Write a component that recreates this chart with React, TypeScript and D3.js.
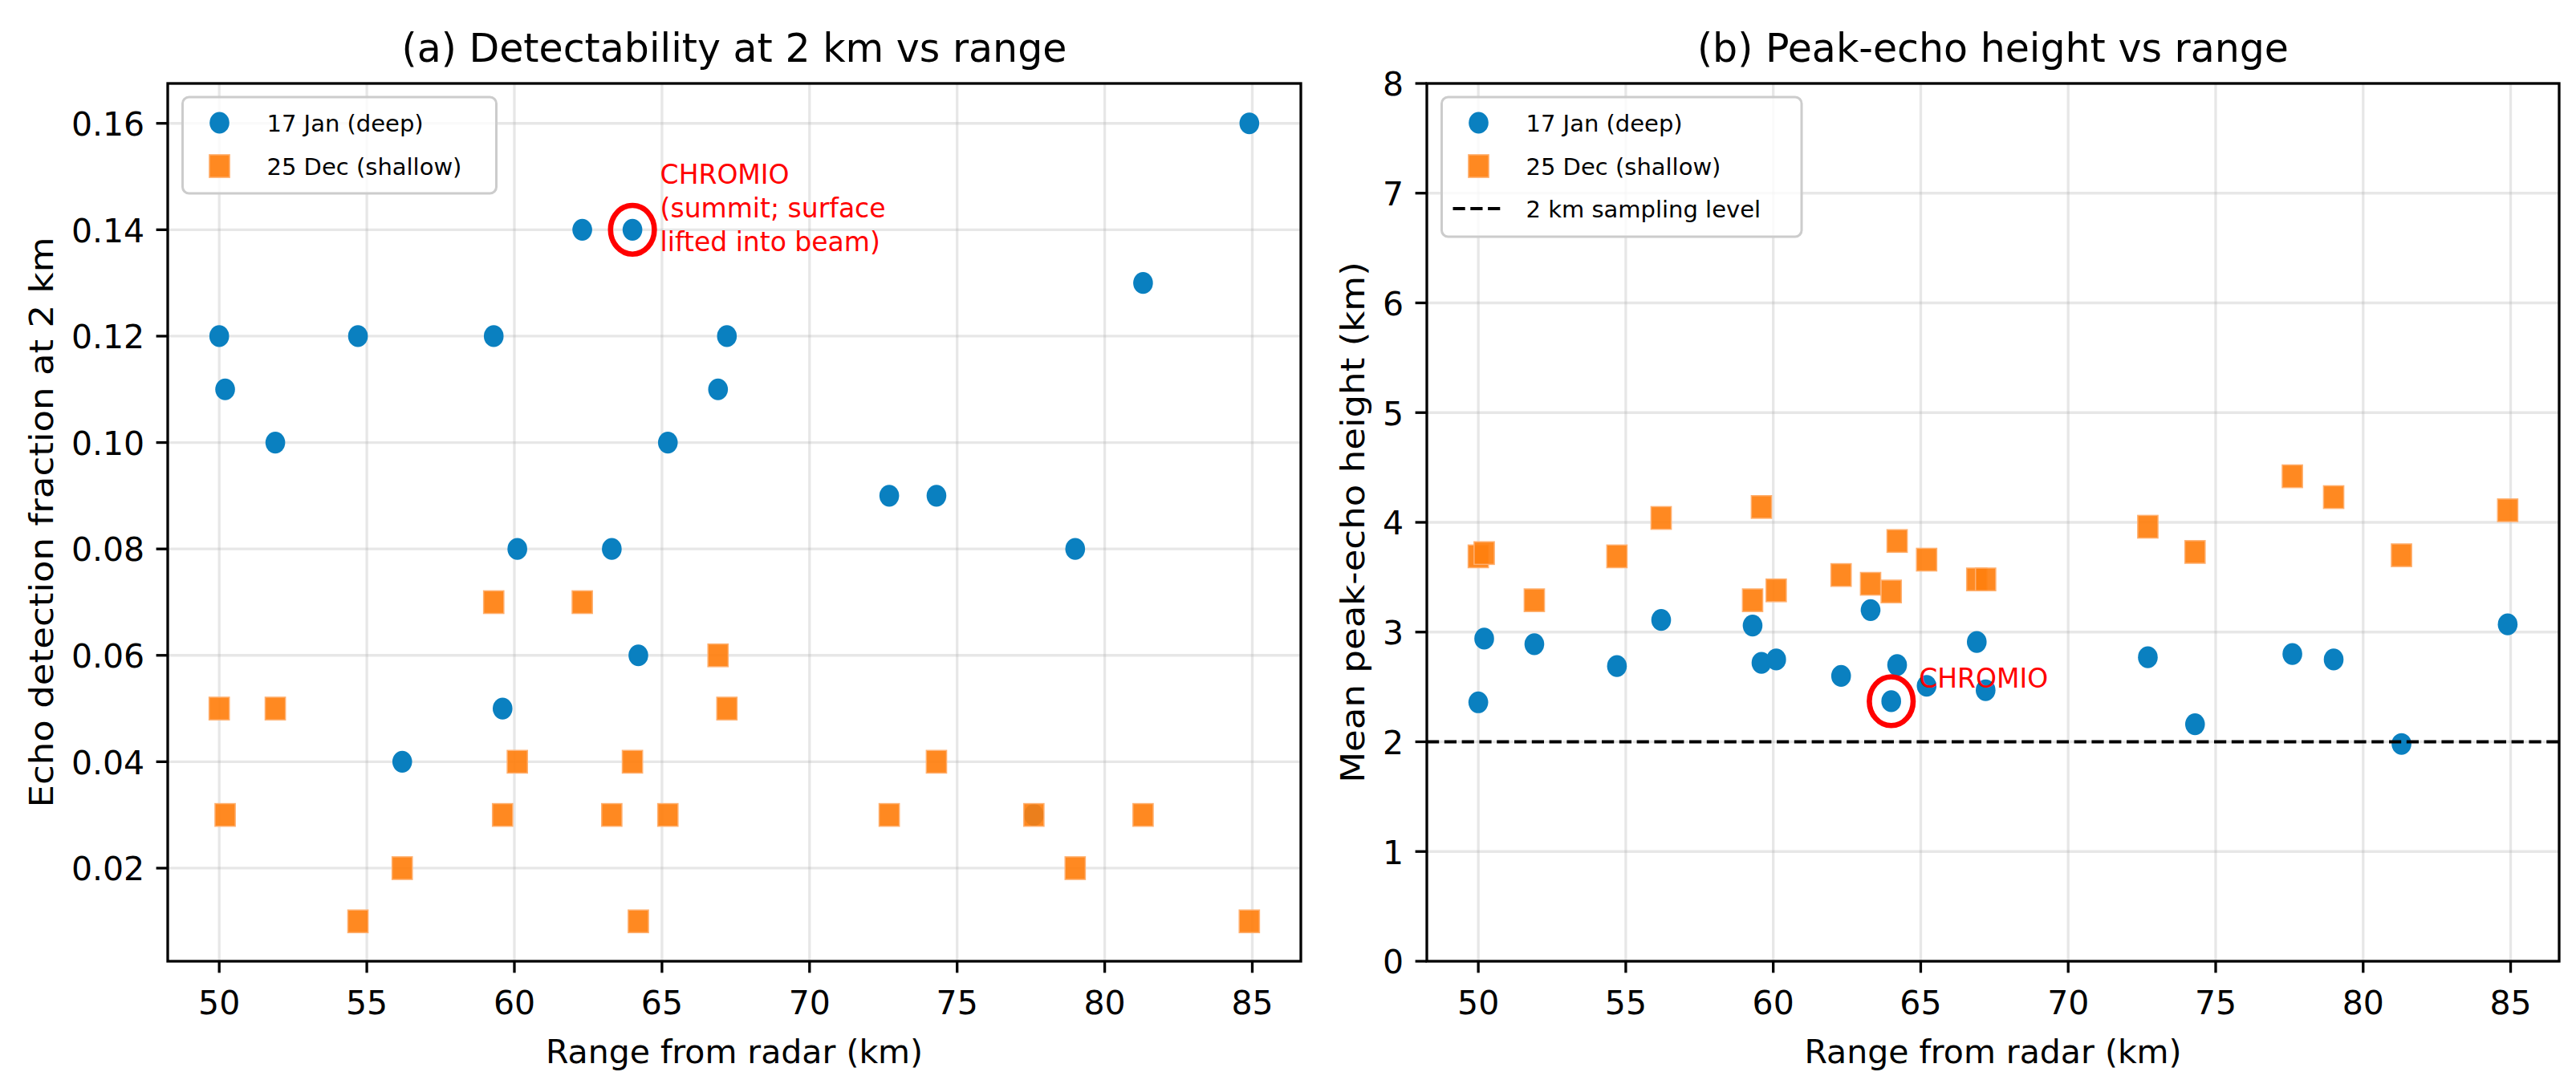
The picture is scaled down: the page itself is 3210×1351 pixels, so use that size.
import React from "react";
import * as d3 from "d3";

// site ranges shared by both case days (km from radar)
const rangeKm = [50.0, 50.2, 51.9, 54.7, 56.2, 59.3, 59.6, 60.1, 62.3, 63.3, 64.0, 64.2, 65.2, 66.9, 67.2, 72.7, 74.3, 77.6, 79.0, 81.3, 84.9];

// (a) echo detection fraction at 2 km
const detectDeep = [0.12, 0.11, 0.10, 0.12, 0.04, 0.12, 0.05, 0.08, 0.14, 0.08, 0.14, 0.06, 0.10, 0.11, 0.12, 0.09, 0.09, 0.03, 0.08, 0.13, 0.16];
const detectShallow = [0.05, 0.03, 0.05, 0.01, 0.02, 0.07, 0.03, 0.04, 0.07, 0.03, 0.04, 0.01, 0.03, 0.06, 0.05, 0.03, 0.04, 0.03, 0.02, 0.03, 0.01];

// (b) mean peak-echo height (km)
const heightDeep = [2.36, 2.94, 2.89, 2.69, 3.11, 3.06, 2.72, 2.75, 2.60, 3.20, 2.37, 2.70, 2.51, 2.91, 2.47, 2.77, 2.16, 2.80, 2.75, 1.98, 3.07];
const heightShallow = [3.69, 3.72, 3.29, 3.69, 4.04, 3.29, 4.14, 3.38, 3.52, 3.44, 3.37, 3.83, 3.66, 3.48, 3.48, 3.96, 3.73, 4.42, 4.23, 3.70, 4.11];

const rangeTicks = [50, 55, 60, 65, 70, 75, 80, 85];
const detectTicks = [0.02, 0.04, 0.06, 0.08, 0.10, 0.12, 0.14, 0.16];
const heightTicks = [0, 1, 2, 3, 4, 5, 6, 7, 8];

const seriesLabels = ["17 Jan (deep)", "25 Dec (shallow)"];
const samplingLabel = "2 km sampling level";
const samplingLevel = 2;
const chromioIndex = 10;
const noteA = ["CHROMIO", "(summit; surface", "lifted into beam)"];
const noteB = ["CHROMIO"];

const W = 3210;
const H = 1351;
const TOP = 104;
const BOTTOM = 1198;
const BLUE = "#0a80c0";
const ORANGE = "#ff7f0e";
const FONT = "DejaVu Sans";
const xDomain = [48.255, 86.645];

type PanelProps = {
  left: number;
  right: number;
  yDomain: [number, number];
  yTicks: number[];
  fmt: (v: number) => string;
  title: string;
  ylabel: string;
  ylabelX: number;
  deep: number[];
  shallow: number[];
  legendW: number;
  withLine: boolean;
  note: string[];
  noteDy: number[];
};

function Dot({ x, y }: { x: number; y: number }) {
  return <ellipse cx={x} cy={y} rx={12.3} ry={13.6} fill={BLUE} />;
}

function Square({ x, y }: { x: number; y: number }) {
  return (
    <rect x={x - 12.6} y={y - 14.1} width={25.2} height={28.2} fill={ORANGE} fillOpacity={0.92}
      stroke="#ffb070" strokeWidth={1.5} />
  );
}

function Panel(p: PanelProps) {
  const x = d3.scaleLinear().domain(xDomain).range([p.left, p.right]);
  const y = d3.scaleLinear().domain(p.yDomain).range([BOTTOM, TOP]);
  const cx = (p.left + p.right) / 2;
  const lx = p.left + 18.5;
  const ly = TOP + 17;
  const rows = p.withLine ? 3 : 2;
  const cxChromio = x(rangeKm[chromioIndex]);
  const cyChromio = y(p.deep[chromioIndex]);

  return (
    <g>
      {/* grid */}
      {rangeTicks.map(t => (
        <line key={"gx" + t} x1={x(t)} x2={x(t)} y1={TOP} y2={BOTTOM} stroke="#b0b0b0" strokeOpacity={0.3} strokeWidth={3.3} />
      ))}
      {p.yTicks.map(t => (
        <line key={"gy" + t} x1={p.left} x2={p.right} y1={y(t)} y2={y(t)} stroke="#b0b0b0" strokeOpacity={0.3} strokeWidth={3.3} />
      ))}

      {/* points */}
      {rangeKm.map((r, i) => <Dot key={"d" + i} x={x(r)} y={y(p.deep[i])} />)}
      {rangeKm.map((r, i) => <Square key={"s" + i} x={x(r)} y={y(p.shallow[i])} />)}

      {p.withLine && (
        <line x1={p.left} x2={p.right} y1={y(samplingLevel)} y2={y(samplingLevel)} stroke="#000" strokeWidth={4.1} strokeDasharray="15.2 6.6" />
      )}

      {/* CHROMIO highlight */}
      <ellipse cx={cxChromio} cy={cyChromio} rx={27.3} ry={30.4} fill="none" stroke="#ff0000" strokeWidth={6.6} />
      {p.note.map((s, i) => (
        <text key={"n" + i} x={cxChromio + 34.5} y={cyChromio + p.noteDy[i]} fill="#ff0000" fontSize={33} fontFamily={FONT}>{s}</text>
      ))}

      {/* frame */}
      <rect x={p.left} y={TOP} width={p.right - p.left} height={BOTTOM - TOP} fill="none" stroke="#000" strokeWidth={3.3} />

      {/* x axis */}
      {rangeTicks.map(t => (
        <g key={"xt" + t}>
          <line x1={x(t)} x2={x(t)} y1={BOTTOM} y2={BOTTOM + 14.4} stroke="#000" strokeWidth={3.3} />
          <text x={x(t)} y={1264} textAnchor="middle" fontSize={41} fontFamily={FONT}>{t}</text>
        </g>
      ))}
      <text x={cx} y={1325} textAnchor="middle" fontSize={41} fontFamily={FONT}>Range from radar (km)</text>

      {/* y axis */}
      {p.yTicks.map(t => (
        <g key={"yt" + t}>
          <line x1={p.left - 14.4} x2={p.left} y1={y(t)} y2={y(t)} stroke="#000" strokeWidth={3.3} />
          <text x={p.left - 28.8} y={y(t) + 15.3} textAnchor="end" fontSize={41} fontFamily={FONT}>{p.fmt(t)}</text>
        </g>
      ))}
      {/* reference image is stretched a little vertically, so the rotated label runs longer */}
      <text transform={`translate(${p.ylabelX},${(TOP + BOTTOM) / 2}) rotate(-90) scale(1.1,1)`} textAnchor="middle" fontSize={41} fontFamily={FONT}>{p.ylabel}</text>

      <text x={cx} y={77} textAnchor="middle" fontSize={49} fontFamily={FONT}>{p.title}</text>

      {/* legend */}
      <rect x={lx} y={ly} width={p.legendW} height={rows === 3 ? 174 : 120} rx={8} fill="#fff" fillOpacity={0.8} stroke="#cccccc" strokeWidth={3} />
      <Dot x={lx + 46} y={ly + 32} />
      <text x={lx + 105} y={ly + 32 + 10.6} fontSize={29} fontFamily={FONT}>{seriesLabels[0]}</text>
      <Square x={lx + 46} y={ly + 86} />
      <text x={lx + 105} y={ly + 86 + 10.6} fontSize={29} fontFamily={FONT}>{seriesLabels[1]}</text>
      {p.withLine && (
        <g>
          <line x1={lx + 14} x2={lx + 79} y1={ly + 139} y2={ly + 139} stroke="#000" strokeWidth={4.1} strokeDasharray="15.2 6.6" />
          <text x={lx + 105} y={ly + 139 + 10.6} fontSize={29} fontFamily={FONT}>{samplingLabel}</text>
        </g>
      )}
    </g>
  );
}

export default function App() {
  const fmt2 = d3.format(".2f");
  const fmt0 = d3.format("d");
  return (
    <div style={{ position: "absolute", left: 0, top: 0, width: W, height: H, background: "#fff" }}>
      <svg width={W} height={H} viewBox={`0 0 ${W} ${H}`} style={{ display: "block" }}>
        <rect width={W} height={H} fill="#fff" />
        <Panel left={209} right={1621} yDomain={[0.0025, 0.1675]} yTicks={detectTicks} fmt={fmt2}
          title="(a) Detectability at 2 km vs range" ylabel="Echo detection fraction at 2 km" ylabelX={66}
          deep={detectDeep} shallow={detectShallow} legendW={391} withLine={false}
          note={noteA} noteDy={[-57.5, -15, 27]} />
        <Panel left={1778} right={3189} yDomain={[0, 8]} yTicks={heightTicks} fmt={fmt0}
          title="(b) Peak-echo height vs range" ylabel="Mean peak-echo height (km)" ylabelX={1700}
          deep={heightDeep} shallow={heightShallow} legendW={448.5} withLine={true}
          note={noteB} noteDy={[-17]} />
      </svg>
    </div>
  );
}
